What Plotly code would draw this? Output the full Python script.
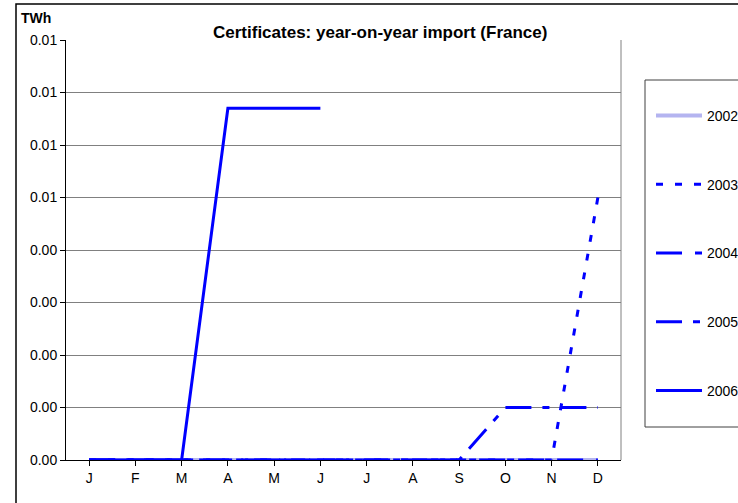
import plotly.graph_objects as go

months = ["J", "F", "M", "A", "M", "J", "J", "A", "S", "O", "N", "D"]
month_ids = list(range(12))

series_names = ["2002", "2003", "2004", "2005", "2006"]
v2002 = [0, 0, 0, 0, 0, 0, 0, 0, 0, 0, 0, 0]
v2003 = [0, 0, 0, 0, 0, 0, 0, 0, 0, 0, 0, 0.005]
v2004 = [0, 0, 0, 0, 0, 0, 0, 0, 0, 0, 0, 0]
v2005 = [0, 0, 0, 0, 0, 0, 0, 0, 0, 0.001, 0.001, 0.001]
v2006 = [0, 0, 0, 0.0067, 0.0067, 0.0067]

y_tick_vals = [0, 0.001, 0.002, 0.003, 0.004, 0.005, 0.006, 0.007, 0.008]
y_tick_labels = ["0.00", "0.00", "0.00", "0.00", "0.00", "0.01", "0.01", "0.01", "0.01"]

styles = {
    "2002": dict(color="#B4B4F0", width=4, dash="solid"),
    "2003": dict(color="#0000FF", width=3, dash="7px,12px"),
    "2004": dict(color="#0000FF", width=3, dash="26px,13px"),
    "2005": dict(color="#0000FF", width=3, dash="26px,11px,7px,11px"),
    "2006": dict(color="#0000FF", width=3, dash="solid"),
}
data = {"2002": v2002, "2003": v2003, "2004": v2004, "2005": v2005, "2006": v2006}

FONT = "Liberation Sans, Arial, sans-serif"

fig = go.Figure()
for name in series_names:
    vals = data[name]
    fig.add_trace(go.Scatter(
        x=month_ids[:len(vals)], y=vals, mode="lines", name=name,
        line=styles[name], legendgroup=name,
    ))

W, H = 738, 503
L, R, T, B = 66, 621, 40, 460

def px(x):
    return (x - L) / (R - L)

def py(y):
    return (B - y) / (B - T)

fig.update_layout(
    width=W, height=H,
    margin=dict(l=L, r=W - R, t=T, b=H - B, autoexpand=False),
    paper_bgcolor="white", plot_bgcolor="white",
    font=dict(family=FONT, size=13, color="black"),
    showlegend=True,
    legend=dict(
        x=px(651), y=py(100), xanchor="left", yanchor="top",
        borderwidth=0, bgcolor="rgba(0,0,0,0)",
        tracegroupgap=47.5, font=dict(size=14, family=FONT),
        itemwidth=46,
    ),
    xaxis=dict(
        range=[-0.5, 11.5], tickmode="array", tickvals=month_ids, ticktext=months,
        tickson="boundaries", ticks="outside", ticklen=5, tickcolor="black",
        showline=True, linecolor="black", linewidth=1, showgrid=False,
        zeroline=False, tickfont=dict(size=14, family=FONT), automargin=False,
    ),
    yaxis=dict(
        range=[0, 0.008], tickmode="array", tickvals=y_tick_vals, ticktext=y_tick_labels,
        ticks="outside", ticklen=5, tickcolor="black",
        showline=True, linecolor="black", linewidth=1,
        showgrid=True, gridcolor="#808080", gridwidth=1, zeroline=False,
        tickfont=dict(size=14, family=FONT), automargin=False,
    ),
    annotations=[
        dict(text="<b>Certificates: year-on-year import (France)</b>", xref="paper", yref="paper",
             x=px(380), y=py(32), xanchor="center", yanchor="middle", showarrow=False,
             font=dict(size=17, family=FONT)),
        dict(text="<b>TWh</b>", xref="paper", yref="paper",
             x=px(19), y=py(18), xanchor="left", yanchor="middle", showarrow=False,
             font=dict(size=14, family=FONT)),
    ],
    shapes=[
        dict(type="rect", xref="paper", yref="paper", x0=px(16), y0=py(560), x1=px(900), y1=py(4),
             line=dict(color="black", width=1.5), layer="below"),
        dict(type="line", xref="paper", yref="paper", x0=1, x1=1, y0=0, y1=1,
             line=dict(color="#808080", width=1), layer="below"),
        dict(type="rect", xref="paper", yref="paper", x0=px(645), y0=py(427), x1=px(800), y1=py(80),
             line=dict(color="#404040", width=1), fillcolor="white", layer="below"),
    ],
)

fig.write_html("out.html", config={"displayModeBar": False},
               post_script="document.body.style.margin='0';document.body.style.overflow='hidden';")
